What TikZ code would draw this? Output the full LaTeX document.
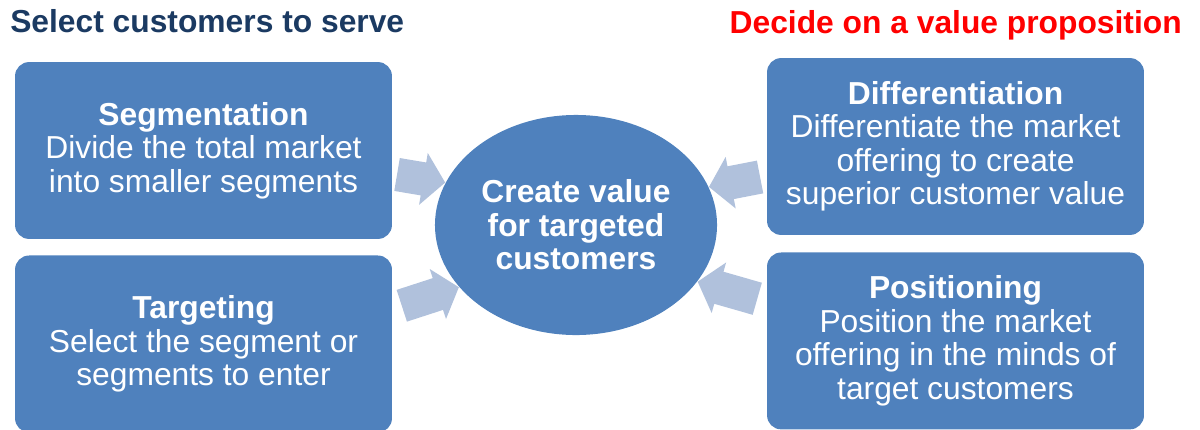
\documentclass[tikz,border=0pt]{standalone}
\usepackage{fontspec}
\setmainfont{Liberation Sans}
\usepackage{xcolor}
\usetikzlibrary{shapes.geometric, shapes.arrows, positioning}
\definecolor{boxblue}{HTML}{4F81BD}
\definecolor{arrowblue}{HTML}{B0C1DC}
\definecolor{titlenavy}{HTML}{1B3A62}

\begin{document}
\begin{tikzpicture}[x=0.025cm, y=-0.025cm,
    box/.style={rectangle, rounded corners=0.35cm, minimum width=9.42cm, minimum height=4.42cm, align=center, fill=boxblue, text=white, font=\fontsize{22.6}{23.8}\selectfont},
    hub/.style={ellipse, fill=boxblue, minimum width=7.05cm, minimum height=5.5cm, inner sep=0pt, align=center, text=white, font=\bfseries\fontsize{22.6}{23.8}\selectfont},
    blockarrow/.style={single arrow, fill=arrowblue, inner sep=0pt, text height=0.82cm, text depth=0pt, single arrow head extend=0.24cm, single arrow tip angle=100},
    heading/.style={inner sep=0pt, font=\bfseries\fontsize{22.6}{24}\selectfont}
]
\useasboundingbox (0,0) rectangle (1200,429);

% headings
\node[heading, text=titlenavy, anchor=base west] (selecttitle) at (10,32) {Select customers to serve};
\node[heading, text=red, anchor=base east] (decidetitle) at (1182,33) {Decide on a value proposition};

% left boxes
\node[box] (seg) at (203.5,150.5) {\textbf{Segmentation}\\Divide the total market\\into smaller segments};
\node[box, below=0.4cm of seg] (targ) {\textbf{Targeting}\\Select the segment or\\segments to enter};

% right boxes
\node[box] (diff) at (955.5,146.5) {\textbf{Differentiation}\\Differentiate the market\\offering to create\\superior customer value};
\node[box, below=0.425cm of diff] (pos) {\textbf{Positioning}\\Position the market\\offering in the minds of\\target customers};

% centre
\node[hub] (core) at (576,225) {Create value\\for targeted\\customers};

% block arrows
\node[blockarrow, minimum height=1.22cm, rotate=-9.5, anchor=tip] (segarrow) at (core.162) {};
\node[blockarrow, minimum height=1.5cm, rotate=18, anchor=tip] (targarrow) at (core.208) {};
\node[blockarrow, minimum height=1.3cm, rotate=191, anchor=tip] (diffarrow) at (core.16) {};
\node[blockarrow, minimum height=1.55cm, rotate=164, anchor=tip] (posarrow) at (core.335) {};

\end{tikzpicture}
\end{document}
